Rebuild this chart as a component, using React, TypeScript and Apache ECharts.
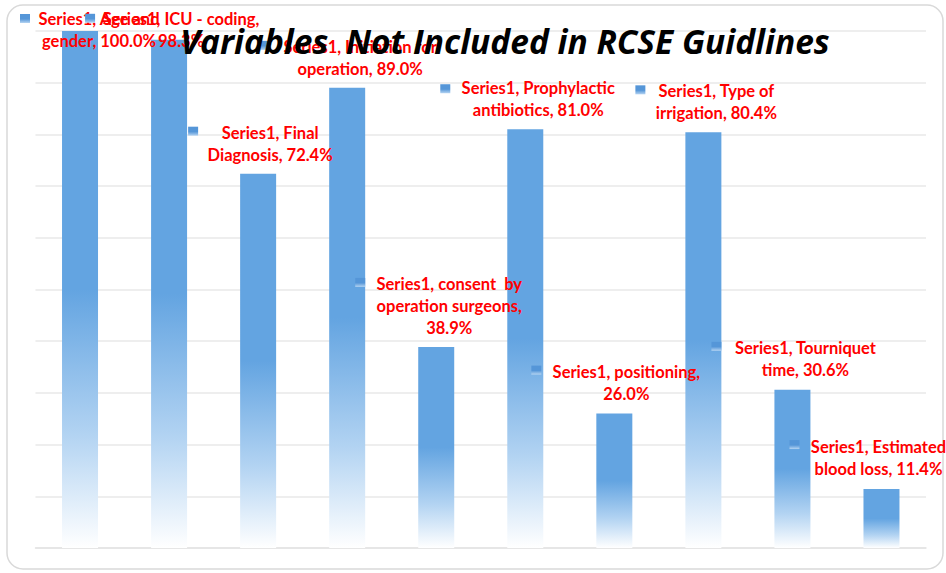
import React, { useEffect, useRef } from 'react';
import * as echarts from 'echarts';

const seriesName = 'Series1';
const categories = [
  'Age and gender',
  'ICU - coding',
  'Final Diagnosis',
  'Initiation for operation',
  'consent  by operation surgeons',
  'Prophylactic antibiotics',
  'positioning',
  'Type of irrigation',
  'Tourniquet time',
  'Estimated blood loss',
];
const values = [100.0, 98.3, 72.4, 89.0, 38.9, 81.0, 26.0, 80.4, 30.6, 11.4];
// where each data label wraps (text content as shown in the chart)
const labelLines = [
  ['Series1, Age and', 'gender, 100.0%'],
  ['Series1, ICU - coding,', '98.3%'],
  ['Series1, Final', 'Diagnosis, 72.4%'],
  ['Series1, Initiation for', 'operation, 89.0%'],
  ['Series1, consent  by', 'operation surgeons,', '38.9%'],
  ['Series1, Prophylactic', 'antibiotics, 81.0%'],
  ['Series1, positioning,', '26.0%'],
  ['Series1, Type of', 'irrigation, 80.4%'],
  ['Series1, Tourniquet', 'time, 30.6%'],
  ['Series1, Estimated', 'blood loss, 11.4%'],
];
const yTicks = { min: 0, max: 100, interval: 10 };
const titleText = 'Variables  Not Included in RCSE Guidlines';

// layout: label offsets (relative to bar top) and legend-key offsets
const labelOffsets = [
  [19, 21], [12, 12], [12, -8], [13, -8], [13, -8],
  [13, -8], [12, -9], [13, -8], [13, -9], [-3, -9],
];
const keyOffsets = [
  [-55, -12.5], [-79, -21.5], [-65, -42.5], [-84, -42.5], [-76, -64.5],
  [-80, -40.5], [-78, -43.5], [-63, -42.5], [-76, -43.5], [-87, -44.5],
];

export default function App() {
  const ref = useRef<HTMLDivElement>(null);
  useEffect(() => {
    const chart = echarts.init(ref.current!, null, { renderer: 'svg' });
    const barGrad = new echarts.graphic.LinearGradient(0, 0, 0, 1, [
      { offset: 0, color: '#63a4e1' },
      { offset: 0.5, color: '#63a4e1' },
      { offset: 0.78, color: '#b2d3f2' },
      { offset: 1, color: '#ffffff' },
    ]);
    const keyGrad = new echarts.graphic.LinearGradient(0, 0, 0, 1, [
      { offset: 0, color: '#5596d8' },
      { offset: 0.55, color: '#5596d8' },
      { offset: 1, color: '#b5d4f2' },
    ]);
    const option: any = {
      animation: false,
      backgroundColor: '#ffffff',
      grid: { left: 35.5, right: 20, top: 31, bottom: 25, containLabel: false },
      xAxis: {
        type: 'category',
        data: categories,
        axisLine: { show: true, lineStyle: { color: '#e3e3e3', width: 1.5 } },
        axisTick: { show: false },
        axisLabel: { show: false },
      },
      yAxis: {
        type: 'value',
        min: yTicks.min,
        max: yTicks.max,
        interval: yTicks.interval,
        axisLine: { show: false },
        axisTick: { show: false },
        axisLabel: { show: false },
        splitLine: { show: true, lineStyle: { color: '#e8e8e8', width: 1.5 } },
      },
      series: [
        {
          type: 'bar',
          name: seriesName,
          barWidth: 36,
          itemStyle: { color: barGrad },
          data: values.map((v, i) => ({
            value: v,
            label: {
              show: true,
              position: 'top',
              distance: 0,
              offset: labelOffsets[i],
              formatter: labelLines[i].join('\n'),
              color: '#ff0000',
              fontFamily: 'Lato',
              fontWeight: 'bold',
              fontSize: 16.5,
              lineHeight: 22,
              align: 'center',
            },
          })),
          z: 2,
        },
        {
          type: 'scatter',
          name: seriesName + ' key',
          symbol: 'rect',
          symbolSize: [10, 9],
          itemStyle: { color: keyGrad, opacity: 1 },
          data: values.map((v, i) => ({ value: v, symbolOffset: keyOffsets[i] })),
          silent: true,
          z: 5,
        },
      ],
      graphic: [
        {
          type: 'rect',
          shape: { x: 7, y: 5, width: 936, height: 564, r: 16 },
          style: { fill: 'none', stroke: '#d9d9d9', lineWidth: 1.5 },
          z: 0,
          silent: true,
        },
        {
          type: 'text',
          x: 505,
          y: 41,
          z: 100,
          style: {
            text: titleText,
            fontFamily: 'Open Sans',
            fontWeight: 'bold',
            fontStyle: 'italic',
            fontSize: 33.5,
            fill: '#000000',
            align: 'center',
            verticalAlign: 'middle',
          },
        },
      ],
    };
    chart.setOption(option);
    return () => chart.dispose();
  }, []);
  return (
    <div
      ref={ref}
      style={{ position: 'fixed', left: 0, top: 0, width: 946, height: 573, background: '#fff' }}
    />
  );
}
